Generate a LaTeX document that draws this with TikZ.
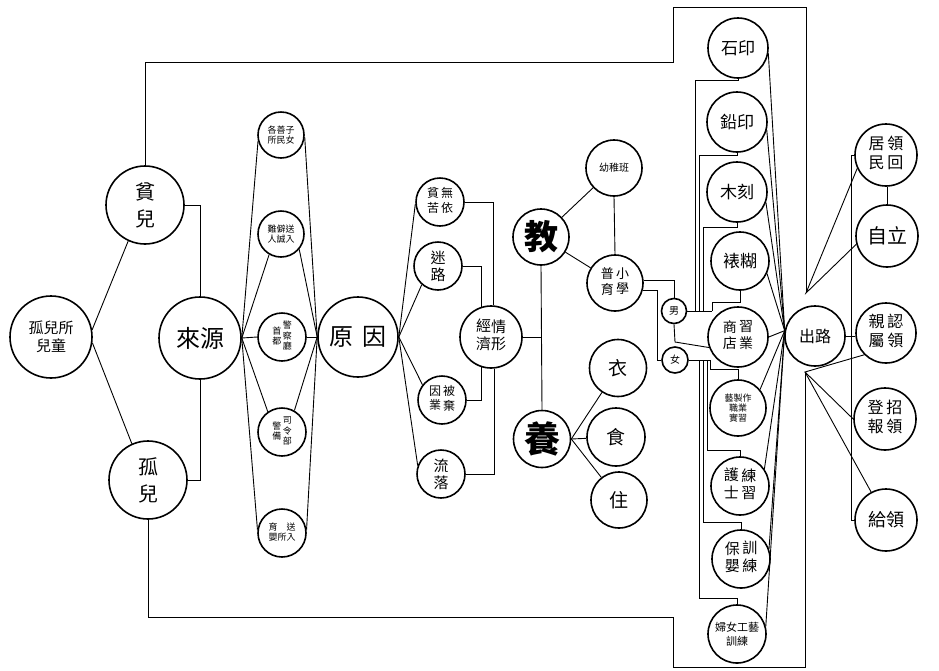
\documentclass[tikz,border=0pt]{standalone}
\usepackage{fontspec}
\usetikzlibrary{backgrounds}
\setmainfont{Noto Sans CJK TC}
\newcommand\vcol[1]{\begin{tabular}{@{}c@{}}#1\end{tabular}}
\begin{document}
\begin{tikzpicture}[x=1pt,y=-1pt,
  ring/.style={circle,draw,fill=white,line width=1.6pt,inner sep=0pt,minimum size=#1,align=center},
  wire/.style={line width=0.9pt},
  fs/.style 2 args={font=\fontsize{#1}{#2}\selectfont}]
\useasboundingbox (0,0) rectangle (939,670);
% left part
\node[ring=82pt, fs={15}{18}] (root) at (51,337) {孤兒所\\兒童};
\node[ring=78pt, fs={20}{27}] (pin) at (145,205) {貧\\兒};
\node[ring=78pt, fs={20}{27}] (gu) at (148,480) {孤\\兒};
\node[ring=82pt, fs={24}{26}] (ly) at (200,338) {來源};
\node[ring=46pt, fs={9}{10}] (n1) at (281,135) {各善子\\所民女};
\node[ring=46pt, fs={9}{10}] (n2) at (281,234) {難僻送\\人誠入};
\node[ring=48pt, fs={9}{10}] (n3) at (282,337) {\vcol{首\\都}\,\vcol{警\\察\\廳}};
\node[ring=48pt, fs={9}{10}] (n4) at (282,432) {\vcol{警\\備}\,\vcol{司\\令\\部}};
\node[ring=48pt, fs={9}{10}] (n5) at (282,533) {\vcol{育\\嬰}\vcol{\\所}\vcol{送\\入\\ }};
\node[ring=80pt, fs={24}{26}] (yy) at (358,337) {原\hspace{0.4em}因};
\node[ring=48pt, fs={12}{14}] (m1) at (440,202) {\vcol{貧\\苦}\,\vcol{無\\依}};
\node[ring=48pt, fs={15}{17}] (m2) at (438,266) {迷\\路};
\node[ring=48pt, fs={12}{14}] (m3) at (442,400) {\vcol{因\\業}\,\vcol{被\\棄}};
\node[ring=48pt, fs={15}{17}] (m4) at (441,474) {流\\落};
\node[ring=62pt, fs={15}{17}] (jj) at (491,337) {\vcol{經\\濟}\vcol{情\\形}};
% middle
\node[ring=56pt, fs={34}{36}] (jy) at (541,237) {\bfseries 教};
\node[ring=57pt, fs={36}{38}] (yg) at (542,439) {\bfseries 養};
\node[ring=56pt, fs={10}{12}] (yz) at (614,168) {幼稚班};
\node[ring=56pt, fs={13}{14}] (px) at (615,283) {\vcol{普\\育}\,\vcol{小\\學}};
\node[ring=25pt, fs={10}{11}] (nan) at (674,311) {男};
\node[ring=26pt, fs={10}{11}] (nv) at (675,360) {女};
\node[ring=57pt, fs={19}{20}] (yi) at (618,368) {衣};
\node[ring=58pt, fs={19}{20}] (shi) at (616,437) {食};
\node[ring=56pt, fs={19}{20}] (zhu) at (619,500) {住};
% right column
\node[ring=60pt, fs={17}{18}] (sy) at (738,48) {石印};
\node[ring=60pt, fs={17}{18}] (qy) at (737,122) {鉛印};
\node[ring=60pt, fs={17}{18}] (mk) at (737,192) {木刻};
\node[ring=58pt, fs={17}{18}] (bh) at (740,261) {裱糊};
\node[ring=60pt, fs={14}{16}] (sd) at (738,337) {\vcol{商\\店}\,\vcol{習\\業}};
\node[ring=56pt, fs={9}{10}] (ys) at (738,408) {藝製作\\職業\\實習};
\node[ring=58pt, fs={15}{17}] (hs) at (740,486) {\vcol{護\\士}\,\vcol{練\\習}};
\node[ring=58pt, fs={15}{17}] (bb) at (741,559) {\vcol{保\\嬰}\,\vcol{訓\\練}};
\node[ring=58pt, fs={11}{14}] (fn) at (737,634) {婦女工藝\\訓練};
\node[ring=60pt, fs={16}{18}] (cl) at (815,336) {出路};
\node[ring=62pt, fs={16}{19}] (jm) at (886,155) {\vcol{居\\民}\,\vcol{領\\回}};
\node[ring=62pt, fs={20}{22}] (zl) at (887,236) {自立};
\node[ring=60pt, fs={16}{19}] (qs) at (886,333) {\vcol{親\\屬}\,\vcol{認\\領}};
\node[ring=62pt, fs={16}{19}] (db) at (885,419) {\vcol{登\\報}\,\vcol{招\\領}};
\node[ring=62pt, fs={18}{20}] (gl) at (886,520) {給領};
% coordinates
\coordinate (tA) at (673,62);
\coordinate (tB) at (806,7);
\coordinate (tP) at (806,293);
\coordinate (bA) at (673,617);
\coordinate (bB) at (805,667);
\coordinate (bP) at (805,372);
\coordinate (cv) at (cl.170);
\coordinate (tr) at (541,337);
\coordinate (vx) at (851,300);
\begin{scope}[on background layer]
\fill[white] (0,0) rectangle (939,670);
% connectors left
\draw[wire] (root.10) -- (pin.245);
\draw[wire] (root.352) -- (gu.114);
\draw[wire] (pin.east) -| (ly.north);
\draw[wire] (gu.east) -| (ly.south);
\draw[wire] (pin.north) |- (tA) |- (tB) -- (tP);
\draw[wire] (gu.south) |- (bA) |- (bB) -- (bP);
\draw[wire] (ly.east) -- (n1.195);
\draw[wire] (ly.east) -- (n2.240);
\draw[wire] (ly.east) -- (n3.west);
\draw[wire] (ly.east) -- (n4.125);
\draw[wire] (ly.east) -- (n5.172);
\draw[wire] (n1.355) -- (yy.west);
\draw[wire] (n2.320) -- (yy.west);
\draw[wire] (n3.east) -- (yy.west);
\draw[wire] (n4.60) -- (yy.west);
\draw[wire] (n5.8) -- (yy.west);
\draw[wire] (yy.east) -- (m1.185);
\draw[wire] (yy.east) -- (m2.229);
\draw[wire] (yy.east) -- (m3.142);
\draw[wire] (yy.east) -- (m4.160);
\draw[wire] (m1.east) -| (jj.85);
\draw[wire] (m2.east) -| (jj.107);
\draw[wire] (m3.east) -| (jj.253);
\draw[wire] (m4.east) -| (jj.277);
\draw[wire] (jj.east) -- (tr);
\draw[wire] (jy.south) -- (yg.north);
% middle connectors
\draw[wire] (jy) -- (yz);
\draw[wire] (jy) -- (px);
\draw[wire] (yz.south) -- (px.north);
\draw[wire] (px.5) -| (nan.north);
\draw[wire] (px.345) -| (657,360) -- (nv.west);
\draw[wire] (yg.east) -- (yi);
\draw[wire] (yg.east) -- (shi);
\draw[wire] (yg.east) -- (zhu);
% boy group
\draw[wire] (nan.east) -- (712,311);
\draw[wire] (sy.south) |- (695,80) -- (695,311);
\draw[wire] (qy.south) |- (699,155) -- (699,311);
\draw[wire] (mk.south) |- (703,227) -- (703,311);
\draw[wire] (bh.south) |- (712,302) -- (712,311);
\draw[wire] (nan.south) -- (675,342) -- (sd.200);
% girl group
\draw[wire] (nv.east) -- (710,360);
\draw[wire] (699,360) |- (737,598) -- (fn.north);
\draw[wire] (703,360) |- (741,522) -- (bb.north);
\draw[wire] (707,360) |- (740,450) -- (hs.north);
\draw[wire] (710,360) |- (738,369) -- (ys.north);
% to exit
\draw[wire] (sy.350) -- (cv);
\draw[wire] (qy.345) -- (cv);
\draw[wire] (mk.340) -- (cv);
\draw[wire] (bh.335) -- (cv);
\draw[wire] (sd.east) -- (cv);
\draw[wire] (ys.40) -- (cv);
\draw[wire] (hs.35) -- (cv);
\draw[wire] (bb.20) -- (cv);
\draw[wire] (fn.15) -- (cv);
% far right
\draw[wire] (cl.east) -- (qs.west |- cl.east);
\draw[wire] (jm.205) -- (tP) -- (zl.195);
\draw[wire] (qs.225) -- (bP) -- (db.west);
\draw[wire] (bP) -- (gl.118);
\draw[wire] (jm.west) -| (vx) |- (gl.west);
\draw[wire] (jm.south -| zl.north) -- (zl.north);
\end{scope}
\end{tikzpicture}
\end{document}
